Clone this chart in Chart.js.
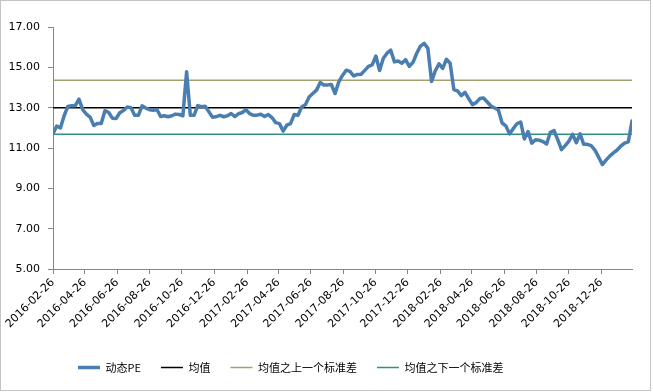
<!DOCTYPE html>
<html>
<head>
<meta charset="utf-8">
<script src="https://cdn.jsdelivr.net/npm/chart.js@4.4.1/dist/chart.umd.min.js"></script>
<style>
  html, body { margin: 0; padding: 0; background: #fff; }
  #wrap { position: relative; width: 653px; height: 392px; }
  #frame { position: absolute; left: 0; top: 0; width: 649px; height: 389px; border: 1px solid #c4c4c4; pointer-events: none; }
</style>
</head>
<body>
<div id="wrap">
  <canvas id="peChart" width="653" height="392"></canvas>
  <div id="frame"></div>
</div>
<script>
// weekly data, first point on this date
const startDate = '2016-02-26';

const peValues = [
  11.71, 12.09, 11.99, 12.60, 13.06, 13.10, 13.10, 13.42, 12.90, 12.68,
  12.53, 12.12, 12.22, 12.22, 12.85, 12.76, 12.48, 12.46, 12.75, 12.86,
  13.03, 13.00, 12.62, 12.62, 13.09, 12.98, 12.90, 12.87, 12.91, 12.56,
  12.60, 12.55, 12.60, 12.68, 12.66, 12.60, 14.78, 12.62, 12.62, 13.10,
  13.05, 13.07, 12.80, 12.52, 12.56, 12.62, 12.55, 12.60, 12.71, 12.56,
  12.70, 12.76, 12.90, 12.70, 12.62, 12.63, 12.67, 12.56, 12.66, 12.51,
  12.26, 12.21, 11.84, 12.13, 12.21, 12.66, 12.62, 13.03, 13.15, 13.53,
  13.70, 13.87, 14.25, 14.12, 14.13, 14.15, 13.70, 14.28, 14.60, 14.86,
  14.80, 14.57, 14.65, 14.66, 14.85, 15.05, 15.12, 15.56, 14.84, 15.45,
  15.70, 15.85, 15.27, 15.31, 15.20, 15.38, 15.05, 15.25, 15.70, 16.05,
  16.19, 15.94, 14.30, 14.83, 15.17, 14.95, 15.40, 15.20, 13.90, 13.83,
  13.60, 13.76, 13.45, 13.15, 13.25, 13.45, 13.48, 13.28, 13.08, 12.98,
  12.88, 12.24, 12.10, 11.70, 11.96, 12.20, 12.29, 11.45, 11.82, 11.24,
  11.41, 11.39, 11.32, 11.20, 11.78, 11.86, 11.41, 10.92, 11.12, 11.34,
  11.68, 11.26, 11.70, 11.18, 11.18, 11.12, 10.90, 10.55, 10.18, 10.40,
  10.60, 10.76, 10.90, 11.10, 11.24, 11.30, 12.34
];

const meanValue = 13.00;
const upperValue = 14.36;
const lowerValue = 11.68;

const tickLabels = [
  '2016-02-26', '2016-04-26', '2016-06-26', '2016-08-26', '2016-10-26',
  '2016-12-26', '2017-02-26', '2017-04-26', '2017-06-26', '2017-08-26',
  '2017-10-26', '2017-12-26', '2018-02-26', '2018-04-26', '2018-06-26',
  '2018-08-26', '2018-10-26', '2018-12-26'
];

const seriesNames = ['动态PE', '均值', '均值之上一个标准差', '均值之下一个标准差'];

const dayOffset = (d) => (Date.parse(d) - Date.parse(startDate)) / 86400000;
const lastDay = (peValues.length - 1) * 7;
const tickDays = tickLabels.map(dayOffset);
const flatLine = (v) => [{ x: 0, y: v }, { x: lastDay, y: v }];

// move the bottom legend to where the original sits
const legendShift = {
  id: 'legendShift',
  afterLayout(chart) {
    const lg = chart.legend;
    const dx = 58 - lg.left;
    lg.left += dx;
    lg.right += dx;
  }
};

const axisGray = '#868686';

new Chart(document.getElementById('peChart'), {
  type: 'line',
  data: {
    datasets: [
      {
        label: seriesNames[0],
        data: peValues.map((v, i) => ({ x: i * 7, y: v })),
        borderColor: '#4a7eb0',
        backgroundColor: '#4a7eb0',
        borderWidth: 3.5,
        pointRadius: 0,
        tension: 0,
        borderJoinStyle: 'round',
        borderCapStyle: 'round'
      },
      {
        label: seriesNames[1],
        data: flatLine(meanValue),
        borderColor: '#000000',
        backgroundColor: '#000000',
        borderWidth: 1.5,
        pointRadius: 0
      },
      {
        label: seriesNames[2],
        data: flatLine(upperValue),
        borderColor: '#a3a070',
        backgroundColor: '#a3a070',
        borderWidth: 1.5,
        pointRadius: 0
      },
      {
        label: seriesNames[3],
        data: flatLine(lowerValue),
        borderColor: '#2f927a',
        backgroundColor: '#2f927a',
        borderWidth: 1.5,
        pointRadius: 0
      }
    ]
  },
  options: {
    responsive: false,
    animation: false,
    devicePixelRatio: 1,
    layout: { padding: { left: 8, right: 21, top: 27, bottom: 9 } },
    plugins: {
      tooltip: { enabled: false },
      legend: {
        position: 'bottom',
        align: 'start',
        labels: {
          usePointStyle: true,
          pointStyle: 'line',
          pointStyleWidth: 22,
          padding: 20,
          color: '#000',
          font: { family: "'Noto Sans CJK SC', 'DejaVu Sans', sans-serif", size: 11 }
        }
      }
    },
    scales: {
      x: {
        type: 'linear',
        min: 0,
        max: lastDay,
        afterBuildTicks: (scale) => {
          scale.ticks = tickDays.map((v) => ({ value: v }));
        },
        afterFit: (scale) => {
          scale.height = 73;
          scale.paddingLeft = 0;
          scale.paddingRight = 0;
        },
        border: { color: axisGray, width: 1 },
        grid: { drawOnChartArea: false, drawTicks: true, tickLength: 5, color: axisGray },
        ticks: {
          autoSkip: false,
          maxRotation: 45,
          minRotation: 45,
          padding: 2,
          color: '#000',
          font: { family: "'DejaVu Sans', sans-serif", size: 11 },
          callback: (v, i) => tickLabels[i]
        }
      },
      y: {
        min: 5,
        max: 17,
        afterFit: (scale) => { scale.width = 45; },
        border: { color: axisGray, width: 1 },
        grid: { drawOnChartArea: false, drawTicks: true, tickLength: 5, color: axisGray },
        ticks: {
          stepSize: 2,
          padding: 8,
          color: '#000',
          font: { family: "'DejaVu Sans', sans-serif", size: 11 },
          callback: (v) => v.toFixed(2)
        }
      }
    }
  },
  plugins: [legendShift]
});
</script>
</body>
</html>
